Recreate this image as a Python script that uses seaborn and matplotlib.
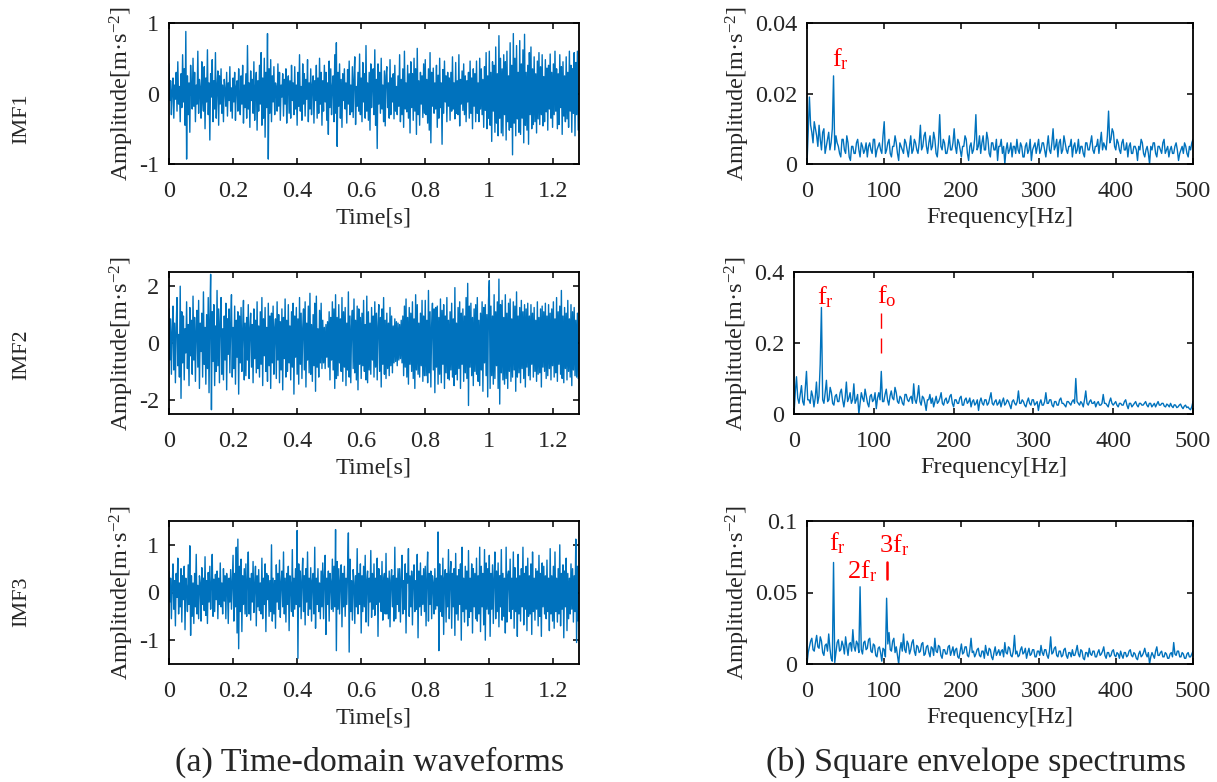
import numpy as np
import pandas as pd
import matplotlib
matplotlib.use("Agg")
import matplotlib.pyplot as plt
import seaborn as sns

# ---------------- data ----------------
DT = 0.0025         # time step of the hand-read waveforms [s]
DF = 1.5625         # frequency step of the hand-read spectra [Hz]

imf1 = [
 0.42,-0.10,0.18,-0.30,0.05,0.22,-0.35,0.12,-0.08,0.30,-0.25,0.45,-0.15,0.10,-0.40,0.28,
 -0.20,0.55,-0.12,0.35,-0.45,0.88,-0.93,0.25,-0.30,0.15,-0.55,0.40,0.05,-0.22,0.50,-0.18,
 0.30,-0.40,0.12,-0.15,0.60,-0.28,0.20,0.08,-0.35,0.45,-0.10,-0.25,0.38,-0.50,0.22,-0.12,
 0.62,-0.30,0.15,-0.66,0.28,-0.05,0.48,-0.40,0.18,-0.22,0.58,-0.35,0.10,0.32,-0.45,0.25,
 -0.15,0.35,-0.28,0.12,-0.40,0.20,0.05,-0.18,0.30,-0.32,0.15,-0.10,0.38,-0.25,0.08,-0.35,
 0.22,-0.12,0.30,-0.38,0.10,0.18,-0.25,0.35,-0.05,-0.30,0.25,-0.15,0.40,-0.42,0.12,-0.20,
 0.28,-0.35,0.68,-0.22,0.15,-0.48,0.32,-0.10,0.20,-0.28,0.45,-0.38,0.08,0.30,-0.52,0.18,
 -0.25,0.40,-0.15,0.58,-0.45,0.22,-0.35,0.50,-0.62,0.30,-0.20,0.85,-0.93,0.35,-0.28,0.48,
 -0.40,0.25,-0.12,0.38,-0.30,0.15,0.08,-0.25,0.42,-0.18,0.30,-0.38,0.12,-0.05,0.28,-0.32,
 0.20,-0.15,0.35,-0.42,0.10,0.25,-0.28,0.18,-0.35,0.40,-0.10,0.15,-0.30,0.38,-0.22,0.12,
 -0.45,0.30,-0.18,0.55,-0.25,0.10,-0.38,0.42,-0.15,0.28,-0.32,0.20,-0.08,0.48,-0.40,0.15,
 -0.22,0.35,-0.30,0.12,0.25,-0.42,0.18,-0.10,0.40,-0.35,0.22,-0.28,0.50,-0.15,0.30,-0.45,
 0.18,-0.25,0.40,-0.12,0.30,-0.38,0.15,-0.58,0.46,-0.20,0.35,-0.30,0.10,0.25,-0.40,0.55,
 -0.28,0.72,-0.75,0.30,-0.18,0.42,-0.35,0.20,-0.48,0.28,-0.10,0.35,-0.22,0.15,-0.42,0.34,
 -0.15,0.46,-0.30,0.12,-0.26,0.38,-0.34,0.20,0.52,-0.44,0.10,-0.18,0.30,-0.25,0.56,-0.30,
 0.22,-0.40,0.44,-0.12,0.28,-0.35,0.68,-0.25,0.15,-0.38,0.30,-0.52,0.42,-0.20,0.10,0.35,
 -0.30,0.62,-0.45,0.20,-0.78,0.42,-0.15,0.30,-0.28,0.50,-0.22,0.12,-0.40,0.32,-0.46,0.25,
 0.38,-0.20,0.15,-0.35,0.48,-0.30,0.22,-0.12,0.28,-0.36,0.40,-0.25,0.10,-0.30,0.25,-0.18,
 0.55,-0.40,0.20,-0.30,0.35,-0.48,0.60,-0.22,0.15,-0.26,0.40,-0.35,0.28,-0.56,0.45,-0.20,
 0.28,-0.38,0.50,-0.25,0.35,-0.58,0.64,-0.30,0.18,-0.45,0.30,-0.15,0.25,-0.34,0.42,-0.28,
 0.48,-0.30,0.20,-0.42,0.35,-0.52,0.58,-0.70,0.30,-0.18,0.36,-0.28,0.15,-0.22,0.40,-0.48,
 0.26,-0.35,0.50,-0.20,0.15,-0.72,0.34,-0.28,0.46,-0.12,0.25,-0.40,0.30,-0.18,0.22,-0.38,
 0.30,-0.25,0.52,-0.22,0.15,-0.36,0.44,-0.28,0.18,-0.30,0.55,-0.46,0.20,-0.15,0.32,-0.24,
 0.42,-0.30,0.25,-0.40,0.18,-0.12,0.30,-0.35,0.46,-0.28,0.22,-0.50,0.35,-0.18,0.28,-0.40,
 0.46,-0.28,0.15,-0.40,0.50,-0.22,0.35,-0.30,0.20,-0.48,0.38,-0.24,0.58,-0.50,0.25,-0.35,
 0.60,-0.45,0.30,-0.68,0.45,-0.25,0.40,-0.55,0.66,-0.42,0.28,-0.60,0.82,-0.35,0.50,-0.56,
 0.35,-0.60,0.55,-0.30,0.45,-0.66,0.60,-0.40,0.25,-0.52,0.72,-0.48,0.40,-0.87,0.85,-0.42,
 0.50,-0.60,0.68,-0.36,0.30,-0.55,0.75,-0.58,0.42,-0.35,0.62,-0.70,0.84,-0.45,0.30,-0.52,
 0.40,-0.72,0.58,-0.30,0.66,-0.50,0.35,-0.44,0.52,-0.40,0.28,-0.56,0.46,-0.36,0.58,-0.44,
 0.38,-0.30,0.55,-0.46,0.24,-0.40,0.48,-0.26,0.36,-0.52,0.40,-0.22,0.56,-0.35,0.30,-0.48,
 0.42,-0.30,0.60,-0.25,0.35,-0.50,0.28,-0.44,0.55,-0.20,0.38,-0.58,0.45,-0.32,0.25,-0.40,
 0.52,-0.36,0.30,-0.48,0.60,-0.25,0.40,-0.55,0.35,-0.28,0.58,-0.60,0.44,-0.30,0.60,-0.52,
]

imf2 = [
 1.20,-0.60,0.85,-1.10,0.40,1.30,-0.95,0.70,-1.40,0.55,1.60,-0.80,0.30,-1.20,2.00,-1.95,
 1.10,-0.70,0.95,-1.30,0.50,-0.35,1.45,-0.90,0.65,-1.50,1.25,-0.45,0.80,-1.10,1.65,-0.60,
 0.90,-1.35,0.40,1.15,-0.85,1.50,-1.60,0.70,-0.30,1.05,-1.20,1.80,-0.75,0.55,-1.45,1.00,
 -0.90,1.60,-1.75,0.85,2.42,-2.35,1.10,-0.65,1.35,-1.50,0.60,-1.00,1.85,-0.80,1.20,-1.40,
 0.75,1.60,-1.10,0.50,-1.30,0.95,-0.60,1.40,-1.65,0.85,-0.40,1.20,-1.05,0.65,1.70,-1.20,
 0.55,-0.90,1.30,-1.45,0.80,-0.50,1.10,-1.80,0.95,-0.70,1.25,-1.00,0.45,1.50,-1.30,0.70,
 -1.15,0.90,-0.60,1.35,-1.25,0.50,1.05,-0.85,0.65,-1.40,1.20,-0.55,0.80,-1.05,1.45,-0.90,
 0.60,-1.20,1.10,-0.75,1.60,-1.50,0.85,-0.45,1.25,-1.00,0.55,-1.35,1.40,-0.80,0.95,-1.60,
 1.05,-0.70,1.30,-1.10,0.50,0.85,-1.25,1.45,-0.60,1.00,-1.40,0.75,-0.95,1.20,-1.65,0.90,
 -0.55,1.55,-1.20,0.80,-1.00,1.35,-0.70,0.60,-1.30,1.10,-0.85,1.40,-1.80,0.95,-0.50,1.25,
 -1.10,0.85,-1.45,1.60,-0.75,1.05,-1.25,0.55,1.20,-0.95,1.45,-1.55,0.70,-0.60,1.30,-1.05,
 1.75,-1.10,0.65,-1.35,1.00,-0.80,1.40,-1.70,1.65,-0.85,0.50,-1.20,1.15,-0.70,1.40,-0.90,
 0.80,-0.70,0.55,-0.90,0.65,-0.50,0.75,-0.85,1.10,-1.30,0.90,-0.60,1.45,-0.95,1.20,-1.60,
 1.70,-1.25,0.90,-1.15,1.35,-0.70,0.85,-1.00,1.60,-1.35,1.10,-0.85,1.25,-1.50,0.70,-0.95,
 1.80,-1.20,0.95,-1.40,0.60,1.15,-0.90,1.55,-1.05,0.80,-1.30,1.30,-1.65,1.20,-0.75,0.90,
 -1.25,1.05,-0.80,1.50,-1.00,0.65,-1.30,1.65,-1.40,1.10,-0.95,0.70,-1.10,1.25,-0.60,0.95,
 -1.20,1.45,-0.85,1.05,-1.30,0.60,1.35,-1.00,0.90,-1.55,1.20,-0.75,1.60,-1.10,0.80,-1.25,
 1.05,-0.90,0.70,-1.15,1.25,-0.80,0.95,-1.05,0.60,-0.70,0.85,-0.65,0.75,-0.80,0.70,-0.60,
 0.65,-0.55,0.80,-0.70,0.95,-1.15,1.30,-0.85,1.55,-1.20,0.90,-1.45,1.25,-0.75,1.05,-1.00,
 1.45,-1.25,0.85,-1.60,1.70,-0.95,1.35,-1.10,0.70,-1.20,1.05,-0.80,1.50,-1.35,0.95,-1.15,
 1.50,-1.15,0.80,-1.40,1.85,-1.05,1.10,-1.55,0.65,1.40,-0.95,1.20,-1.75,1.25,-0.85,1.30,
 -1.45,0.90,-1.10,1.55,-1.40,1.15,-0.75,1.35,-1.60,0.95,-1.05,1.60,-1.25,0.80,-1.30,1.10,
 -0.95,1.40,-1.20,0.85,-1.50,1.95,-1.10,0.70,-1.30,1.25,-0.90,1.45,-1.60,1.05,-0.75,1.20,
 -1.35,0.95,-1.05,1.60,-1.25,2.10,-2.20,1.30,-0.85,1.40,-1.15,0.90,-1.50,1.20,-1.00,1.35,
 -1.10,1.60,-1.35,0.80,-1.50,1.05,-0.95,1.45,-1.70,1.25,-0.70,1.35,-1.15,1.00,-1.90,1.50,
 2.20,-1.60,1.30,-1.15,0.95,-1.45,1.70,-1.25,1.10,-0.80,1.45,-1.60,2.25,-2.15,1.35,-1.05,
 1.50,-1.30,0.90,-1.45,1.70,-1.25,1.05,-1.60,1.40,-1.00,1.55,-1.35,0.85,-1.20,1.45,-0.95,
 1.30,-1.70,1.80,-1.20,0.95,-1.05,1.25,-1.40,1.50,-0.90,1.10,-1.25,1.35,-1.55,1.20,-0.85,
 1.40,-1.15,0.95,-1.30,1.35,-0.75,1.05,-1.20,1.25,-1.00,0.80,-1.35,1.45,-1.10,0.90,-1.05,
 1.20,-1.55,1.30,-0.85,1.10,-1.00,1.40,-1.25,0.95,-1.15,1.35,-0.90,1.05,-1.30,1.20,-0.80,
 1.45,-1.20,0.85,-1.05,1.60,-1.35,1.10,-0.75,1.30,-1.10,1.85,-1.25,0.95,-1.40,1.25,-0.90,
 1.05,-1.30,1.50,-1.00,0.85,-1.20,1.35,-1.50,1.10,-0.95,1.25,-1.15,0.80,-1.20,1.05,-1.25,
]

imf3 = [
 0.45,-0.20,0.30,-0.55,0.15,0.60,-0.35,0.25,-0.70,0.40,-0.10,0.72,-0.45,0.20,-0.30,0.50,
 -0.62,0.35,-0.15,0.55,-0.78,0.30,0.10,-0.40,0.58,-0.25,0.98,-0.90,0.35,-0.50,0.20,-0.65,
 0.40,-0.30,0.80,-0.45,0.15,-0.55,0.35,0.20,-0.60,0.52,-0.25,0.30,-0.38,0.75,-0.48,0.25,
 -0.65,0.42,-0.20,0.55,-0.35,0.15,0.80,-0.50,0.28,-0.40,0.38,-0.15,0.45,-0.55,0.30,-0.25,
 0.62,-0.30,0.20,-0.45,0.50,-0.18,0.35,-0.55,0.40,0.12,-0.65,0.30,-0.20,0.48,-0.35,0.25,
 0.78,-0.60,0.40,-0.30,0.95,-0.85,1.12,-1.18,0.55,-0.40,0.70,-0.82,0.35,-0.25,0.50,-0.45,
 0.60,-0.50,0.25,0.85,-0.45,0.30,-0.58,0.40,-0.20,0.65,-0.42,0.15,0.55,-0.70,0.35,-0.30,
 0.48,-0.38,0.20,-0.45,0.72,-0.55,0.30,-0.25,0.60,-0.82,0.40,-0.15,0.35,-0.50,0.25,-0.40,
 1.00,-0.60,0.30,-0.45,0.25,-0.75,0.58,-0.20,0.40,-0.35,0.68,-0.52,0.20,0.45,-0.30,0.85,
 -0.45,0.30,-0.62,0.40,-0.25,0.55,-0.80,0.35,0.15,-0.40,0.90,-0.50,0.30,-0.35,0.50,-0.25,
 1.30,-1.38,0.60,-0.30,0.45,-0.55,0.25,0.72,-0.40,0.35,-0.68,0.50,-0.20,0.85,-0.48,0.30,
 -0.35,0.52,-0.60,0.25,0.40,-0.45,0.95,-0.75,0.30,-0.25,0.50,-0.40,0.20,-0.55,0.45,-0.30,
 0.62,-0.55,0.35,0.78,-0.88,0.30,-0.25,0.45,-0.60,0.40,0.20,-0.35,0.70,-0.40,0.55,-0.30,
 1.32,-1.22,0.65,-0.35,0.50,-0.45,0.25,0.58,-0.72,0.40,-0.30,0.55,-0.50,0.30,-0.25,0.45,
 1.25,-1.25,0.70,-0.40,0.25,-0.58,0.48,0.20,-0.65,0.35,-0.30,0.92,-0.45,0.40,-0.25,0.60,
 -0.85,0.35,-0.40,0.55,-0.30,0.78,-0.62,0.25,0.45,-0.70,0.30,-0.20,0.88,-0.52,0.40,-0.35,
 0.60,-0.48,0.30,-0.25,0.72,-0.92,0.50,-0.20,0.35,-0.40,0.65,-0.58,0.25,0.40,-0.45,0.82,
 -0.45,0.30,-0.55,0.45,-0.72,0.25,0.48,-0.30,0.35,-0.60,0.95,-0.55,0.30,-0.25,0.50,-0.40,
 0.50,-0.62,0.30,0.78,-0.45,0.25,-0.35,0.60,-0.85,0.40,0.20,0.92,-0.50,0.35,-0.30,0.45,
 -0.68,0.30,0.58,-0.40,0.25,-0.35,0.80,-0.95,0.45,-0.30,0.62,-0.48,0.35,-0.25,0.50,-0.40,
 0.55,-0.70,0.30,0.85,-0.60,0.40,-0.25,0.45,-0.55,0.35,0.20,-0.45,0.50,-0.35,0.30,-0.28,
 1.27,-1.22,0.60,-0.40,0.35,-0.50,0.72,-0.88,0.30,0.48,-0.62,0.40,-0.30,0.90,-0.55,0.35,
 0.65,-0.75,0.40,-0.30,0.50,-0.90,0.82,-0.45,0.35,-0.58,0.48,-0.25,0.60,-1.00,0.95,-0.40,
 0.30,-0.62,0.55,-0.35,0.45,-0.70,0.88,-0.52,0.30,-0.40,0.60,-0.85,0.50,-0.30,0.40,-0.55,
 0.72,-0.60,0.35,-0.45,0.95,-0.82,0.55,-0.30,0.40,-0.68,0.90,-1.00,0.62,-0.35,0.50,-0.45,
 0.78,-0.92,0.40,-0.35,0.58,-0.65,0.30,0.85,-0.55,0.45,-0.40,0.62,-0.72,0.35,-0.30,0.90,
 -0.58,0.40,-0.50,0.30,-0.85,0.95,-0.62,0.35,0.45,-0.40,0.70,-0.55,0.30,-0.35,0.85,-0.75,
 0.52,-0.40,0.30,-0.92,0.80,-0.45,0.35,-0.60,0.50,-0.30,0.95,-0.68,0.40,-0.35,0.55,-0.80,
 0.72,-0.50,0.35,-0.45,0.60,-0.88,0.85,-0.40,0.30,-0.58,0.50,-0.35,0.45,-0.70,0.78,-0.50,
 0.40,-0.92,0.62,-0.30,0.55,-0.45,0.35,-0.55,0.68,-0.40,0.30,-0.80,0.92,-0.45,0.35,-0.60,
 0.55,-0.75,0.85,-0.40,0.30,-0.62,0.50,-0.45,1.00,-0.70,0.40,-0.35,0.58,-0.95,0.45,-0.30,
 0.72,-0.80,0.40,-0.55,0.30,-0.45,0.60,-0.35,0.50,-0.62,0.35,-0.40,1.12,-1.05,0.55,-0.60,
]

spec1 = [
 0.000,0.009,0.019,0.011,0.009,0.006,0.012,0.010,0.008,0.005,0.011,0.007,0.004,0.009,0.010,0.003,0.005,0.007,0.009,0.004,
 0.006,0.010,0.025,0.004,0.008,0.006,0.005,0.003,0.002,0.007,0.007,0.004,0.003,0.008,0.006,0.002,0.001,0.005,0.005,0.003,
 0.003,0.006,0.007,0.004,0.002,0.006,0.005,0.003,0.004,0.006,0.002,0.005,0.006,0.004,0.003,0.007,0.007,0.002,0.004,0.005,
 0.006,0.004,0.003,0.008,0.012,0.003,0.004,0.006,0.007,0.003,0.002,0.005,0.005,0.008,0.006,0.003,0.001,0.006,0.005,0.004,
 0.003,0.007,0.006,0.004,0.002,0.005,0.008,0.003,0.004,0.007,0.006,0.004,0.003,0.006,0.011,0.004,0.005,0.008,0.009,0.005,
 0.003,0.006,0.008,0.004,0.005,0.009,0.007,0.003,0.002,0.006,0.014,0.005,0.004,0.007,0.006,0.003,0.003,0.005,0.008,0.004,
 0.004,0.006,0.010,0.005,0.003,0.007,0.006,0.004,0.002,0.005,0.005,0.008,0.007,0.003,0.001,0.005,0.006,0.003,0.004,0.007,
 0.014,0.004,0.005,0.008,0.003,0.006,0.008,0.004,0.004,0.009,0.007,0.003,0.002,0.006,0.006,0.004,0.004,0.007,0.001,0.005,
 0.005,0.007,0.003,0.005,0.000,0.004,0.006,0.003,0.004,0.006,0.002,0.005,0.005,0.003,0.007,0.004,0.003,0.006,0.005,0.002,
 0.002,0.005,0.006,0.003,0.004,0.007,0.001,0.004,0.005,0.006,0.003,0.005,0.007,0.003,0.004,0.006,0.006,0.004,0.002,0.005,
 0.008,0.004,0.003,0.006,0.010,0.004,0.005,0.007,0.002,0.006,0.007,0.003,0.004,0.008,0.006,0.004,0.003,0.005,0.005,0.007,
 0.002,0.005,0.006,0.003,0.004,0.007,0.003,0.005,0.005,0.003,0.002,0.006,0.006,0.004,0.004,0.006,0.008,0.004,0.003,0.005,
 0.005,0.007,0.003,0.006,0.009,0.004,0.006,0.005,0.004,0.008,0.015,0.006,0.007,0.010,0.009,0.005,0.004,0.007,0.006,0.004,
 0.003,0.006,0.007,0.004,0.004,0.006,0.002,0.005,0.006,0.003,0.003,0.005,0.005,0.004,0.001,0.005,0.004,0.007,0.006,0.003,
 0.002,0.004,0.005,0.003,0.000,0.005,0.004,0.006,0.006,0.003,0.002,0.005,0.005,0.004,0.003,0.006,0.007,0.003,0.004,0.005,
 0.002,0.004,0.005,0.003,0.003,0.005,0.006,0.004,0.001,0.003,0.004,0.005,0.003,0.006,0.005,0.003,0.002,0.005,0.004,0.006,
 0.007,
]

spec2 = [
 0.000,0.060,0.105,0.045,0.030,0.055,0.080,0.035,0.025,0.070,0.120,0.040,0.040,0.030,0.065,0.050,0.020,0.045,0.090,0.030,
 0.050,0.140,0.300,0.040,0.030,0.060,0.095,0.035,0.040,0.075,0.060,0.030,0.025,0.050,0.055,0.035,0.035,0.060,0.070,0.040,
 0.020,0.045,0.090,0.035,0.045,0.060,0.030,0.040,0.085,0.030,0.040,0.055,0.000,0.030,0.060,0.045,0.035,0.070,0.050,0.030,
 0.020,0.050,0.055,0.035,0.040,0.060,0.015,0.045,0.060,0.040,0.120,0.035,0.035,0.055,0.070,0.040,0.025,0.050,0.065,0.045,
 0.040,0.075,0.060,0.035,0.030,0.050,0.045,0.030,0.025,0.055,0.055,0.040,0.035,0.045,0.050,0.030,0.085,0.040,0.030,0.050,
 0.080,0.035,0.025,0.050,0.045,0.030,0.010,0.040,0.040,0.055,0.030,0.045,0.020,0.035,0.050,0.030,0.035,0.045,0.060,0.030,
 0.025,0.040,0.045,0.030,0.035,0.050,0.055,0.030,0.020,0.040,0.040,0.030,0.030,0.045,0.050,0.025,0.025,0.040,0.045,0.030,
 0.035,0.045,0.020,0.035,0.040,0.025,0.030,0.040,0.010,0.035,0.045,0.030,0.025,0.040,0.040,0.025,0.030,0.045,0.060,0.030,
 0.025,0.035,0.040,0.025,0.030,0.040,0.020,0.035,0.045,0.025,0.030,0.040,0.035,0.025,0.015,0.035,0.040,0.030,0.025,0.035,
 0.065,0.030,0.030,0.040,0.035,0.025,0.020,0.035,0.045,0.030,0.025,0.040,0.040,0.025,0.030,0.035,0.010,0.030,0.040,0.025,
 0.025,0.035,0.060,0.030,0.030,0.040,0.040,0.025,0.020,0.035,0.035,0.025,0.025,0.040,0.045,0.030,0.030,0.025,0.020,0.035,
 0.035,0.030,0.025,0.035,0.040,0.030,0.100,0.035,0.030,0.025,0.035,0.030,0.020,0.040,0.065,0.030,0.025,0.035,0.040,0.030,
 0.030,0.035,0.020,0.030,0.035,0.025,0.025,0.030,0.055,0.030,0.030,0.025,0.020,0.035,0.045,0.030,0.025,0.030,0.035,0.025,
 0.020,0.030,0.030,0.025,0.025,0.035,0.040,0.025,0.015,0.030,0.030,0.020,0.025,0.030,0.035,0.025,0.020,0.030,0.030,0.025,
 0.025,0.030,0.035,0.025,0.020,0.030,0.030,0.020,0.025,0.030,0.020,0.028,0.035,0.025,0.025,0.030,0.030,0.022,0.020,0.028,
 0.025,0.020,0.030,0.022,0.018,0.026,0.025,0.018,0.020,0.025,0.028,0.020,0.015,0.022,0.025,0.018,0.020,0.015,0.012,0.020,
 0.035,
]

spec3 = [
 0.000,0.008,0.012,0.016,0.018,0.010,0.009,0.015,0.020,0.012,0.011,0.019,0.016,0.008,0.006,0.013,0.014,0.009,0.021,0.011,
 0.004,0.002,0.071,0.001,0.008,0.015,0.017,0.009,0.010,0.016,0.013,0.007,0.019,0.012,0.006,0.014,0.015,0.009,0.024,0.012,
 0.009,0.016,0.014,0.008,0.054,0.010,0.007,0.015,0.016,0.010,0.011,0.017,0.018,0.009,0.008,0.014,0.013,0.006,0.005,0.011,
 0.012,0.008,0.002,0.011,0.010,0.005,0.046,0.014,0.022,0.010,0.009,0.016,0.018,0.008,0.012,0.006,0.000,0.010,0.015,0.009,
 0.021,0.010,0.008,0.016,0.014,0.007,0.010,0.015,0.017,0.009,0.006,0.013,0.012,0.008,0.009,0.014,0.015,0.006,0.007,0.012,
 0.013,0.008,0.005,0.012,0.011,0.006,0.018,0.009,0.008,0.013,0.012,0.006,0.004,0.010,0.010,0.007,0.007,0.012,0.013,0.006,
 0.009,0.012,0.006,0.010,0.011,0.005,0.004,0.009,0.014,0.007,0.008,0.012,0.012,0.006,0.005,0.010,0.018,0.008,0.009,0.005,
 0.007,0.010,0.011,0.006,0.005,0.009,0.009,0.004,0.013,0.008,0.006,0.011,0.010,0.005,0.003,0.008,0.012,0.006,0.008,0.010,
 0.006,0.009,0.010,0.005,0.015,0.008,0.007,0.012,0.011,0.006,0.005,0.009,0.020,0.007,0.009,0.005,0.006,0.010,0.012,0.007,
 0.008,0.011,0.004,0.008,0.011,0.006,0.007,0.010,0.010,0.005,0.005,0.009,0.009,0.006,0.013,0.008,0.006,0.010,0.010,0.006,
 0.004,0.009,0.019,0.007,0.008,0.011,0.012,0.006,0.005,0.009,0.009,0.005,0.006,0.010,0.011,0.006,0.004,0.008,0.008,0.005,
 0.010,0.006,0.006,0.009,0.013,0.007,0.005,0.010,0.009,0.004,0.003,0.008,0.008,0.005,0.011,0.007,0.006,0.009,0.009,0.005,
 0.005,0.008,0.010,0.006,0.007,0.009,0.012,0.006,0.004,0.008,0.008,0.005,0.006,0.009,0.010,0.006,0.005,0.008,0.007,0.004,
 0.009,0.006,0.004,0.008,0.008,0.005,0.006,0.009,0.010,0.006,0.005,0.008,0.007,0.004,0.003,0.007,0.009,0.005,0.006,0.008,
 0.011,0.007,0.005,0.008,0.000,0.005,0.008,0.006,0.004,0.009,0.012,0.006,0.006,0.008,0.009,0.005,0.005,0.008,0.007,0.004,
 0.004,0.007,0.008,0.005,0.015,0.007,0.006,0.009,0.009,0.005,0.005,0.008,0.007,0.004,0.004,0.007,0.008,0.005,0.005,0.007,
 0.009,
]

row_labels = ["IMF1", "IMF2", "IMF3"]
captions = ["(a) Time-domain waveforms", "(b) Square envelope spectrums"]
time_ticks = [0, 0.2, 0.4, 0.6, 0.8, 1.0, 1.2]
time_ticklabels = ["0", "0.2", "0.4", "0.6", "0.8", "1", "1.2"]
time_yticks = [[-1, 0, 1], [-2, 0, 2], [-1, 0, 1]]
time_yticklabels = [["-1", "0", "1"], ["-2", "0", "2"], ["-1", "0", "1"]]
time_ylims = [(-1, 1), (-2.5, 2.5), (-1.5, 1.5)]
freq_ticks = [0, 100, 200, 300, 400, 500]
freq_ticklabels = ["0", "100", "200", "300", "400", "500"]
spec_yticks = [[0, 0.02, 0.04], [0, 0.2, 0.4], [0, 0.05, 0.1]]
spec_yticklabels = [["0", "0.02", "0.04"], ["0", "0.2", "0.4"], ["0", "0.05", "0.1"]]
spec_ylims = [(0, 0.04), (0, 0.4), (0, 0.1)]

# annotations: (text, frequency, amplitude) for each spectrum
annots = [
    [("f$_{\\mathrm{r}}$", 43.5, 0.0262)],
    [("f$_{\\mathrm{r}}$", 40.0, 0.292), ("f$_{\\mathrm{o}}$", 116.5, 0.296)],
    [("f$_{\\mathrm{r}}$", 39.5, 0.0752), ("2f$_{\\mathrm{r}}$", 72.0, 0.0556),
     ("3f$_{\\mathrm{r}}$", 112.7, 0.0740)],
]
fo_marker = (109.375, 0.284, 0.171)     # dashed mark under f_o
f3_marker = (103.125, 0.0713, 0.0594)   # solid mark under 3f_r

# ---------------- style ----------------
sns.set_theme(style="ticks")
plt.rcParams["font.family"] = ["Liberation Serif", "DejaVu Serif"]
plt.rcParams["mathtext.fontset"] = "custom"
plt.rcParams["mathtext.rm"] = "Liberation Serif"
plt.rcParams["mathtext.it"] = "Liberation Serif:italic"
plt.rcParams["mathtext.bf"] = "Liberation Serif:bold"
plt.rcParams["axes.unicode_minus"] = False

BLUE = "#0072BD"
TXT = "#262626"
FS = 17.5

fig = plt.figure(figsize=(12.17, 7.82), dpi=100)
W, H = 1217.0, 782.0

def ax_px(x0, y0, x1, y1):
    return fig.add_axes([x0 / W, 1 - y1 / H, (x1 - x0) / W, (y1 - y0) / H])

left_boxes = [(169, 23, 579, 164), (169, 272, 579, 414), (169, 521, 579, 664)]
right_boxes = [(807, 23, 1193, 164), (794, 272, 1193, 414), (807, 521, 1193, 664)]

def style_axes(ax):
    for s in ax.spines.values():
        s.set_linewidth(1.3)
        s.set_color("black")
        s.set_visible(True)
    ax.tick_params(direction="in", length=4, width=1.1, top=True, right=True,
                   labelsize=FS, colors="black", labelcolor=TXT)
    ax.tick_params(axis="x", pad=12)
    ax.tick_params(axis="y", pad=7)
    ax.grid(False)
    ax.set_facecolor("white")

imfs = [imf1, imf2, imf3]
specs = [spec1, spec2, spec3]

for i in range(3):
    # time domain
    ax = ax_px(*left_boxes[i])
    df_t = pd.DataFrame({"t": np.arange(len(imfs[i])) * DT, "a": imfs[i]})
    sns.lineplot(data=df_t, x="t", y="a", ax=ax, color=BLUE, linewidth=1.0,
                 estimator=None, errorbar=None)
    ax.set_xlim(0, 1.28)
    ax.set_ylim(*time_ylims[i])
    ax.set_xticks(time_ticks)
    ax.set_xticklabels(time_ticklabels)
    ax.set_yticks(time_yticks[i])
    ax.set_yticklabels(time_yticklabels[i])
    ax.set_xlabel("Time[s]", fontsize=FS, labelpad=4, color=TXT)
    ax.set_ylabel("Amplitude[m·s$^{-2}$]", fontsize=FS, labelpad=2, color=TXT)
    style_axes(ax)

    # spectrum
    ax = ax_px(*right_boxes[i])
    df_f = pd.DataFrame({"f": np.arange(len(specs[i])) * DF, "s": specs[i]})
    sns.lineplot(data=df_f, x="f", y="s", ax=ax, color=BLUE, linewidth=1.0,
                 estimator=None, errorbar=None)
    ax.set_xlim(0, 500)
    ax.set_ylim(*spec_ylims[i])
    ax.set_xticks(freq_ticks)
    ax.set_xticklabels(freq_ticklabels)
    ax.set_yticks(spec_yticks[i])
    ax.set_yticklabels(spec_yticklabels[i])
    ax.set_xlabel("Frequency[Hz]", fontsize=FS, labelpad=4, color=TXT)
    ax.set_ylabel("Amplitude[m·s$^{-2}$]", fontsize=FS, labelpad=2, color=TXT)
    style_axes(ax)
    for txt, fx, fy in annots[i]:
        ax.text(fx, fy, txt, color="red", fontsize=19, ha="center", va="bottom")
    if i == 1:
        ax.plot([fo_marker[0]] * 2, [fo_marker[1], fo_marker[2]], color="red",
                linewidth=1.0, dashes=(11, 7))
    if i == 2:
        ax.plot([f3_marker[0]] * 2, [f3_marker[1], f3_marker[2]], color="red",
                linewidth=1.8)

# row labels and captions
for lab, yc in zip(row_labels, [119, 355, 602]):
    fig.text(22 / W, 1 - yc / H, lab, rotation=90, fontsize=16, color=TXT,
             ha="center", va="center")
for cap, xc in zip(captions, [370, 976]):
    fig.text(xc / W, 1 - 762 / H, cap, fontsize=24.5, color=TXT,
             ha="center", va="center")

fig.savefig("out.png", dpi=100)
